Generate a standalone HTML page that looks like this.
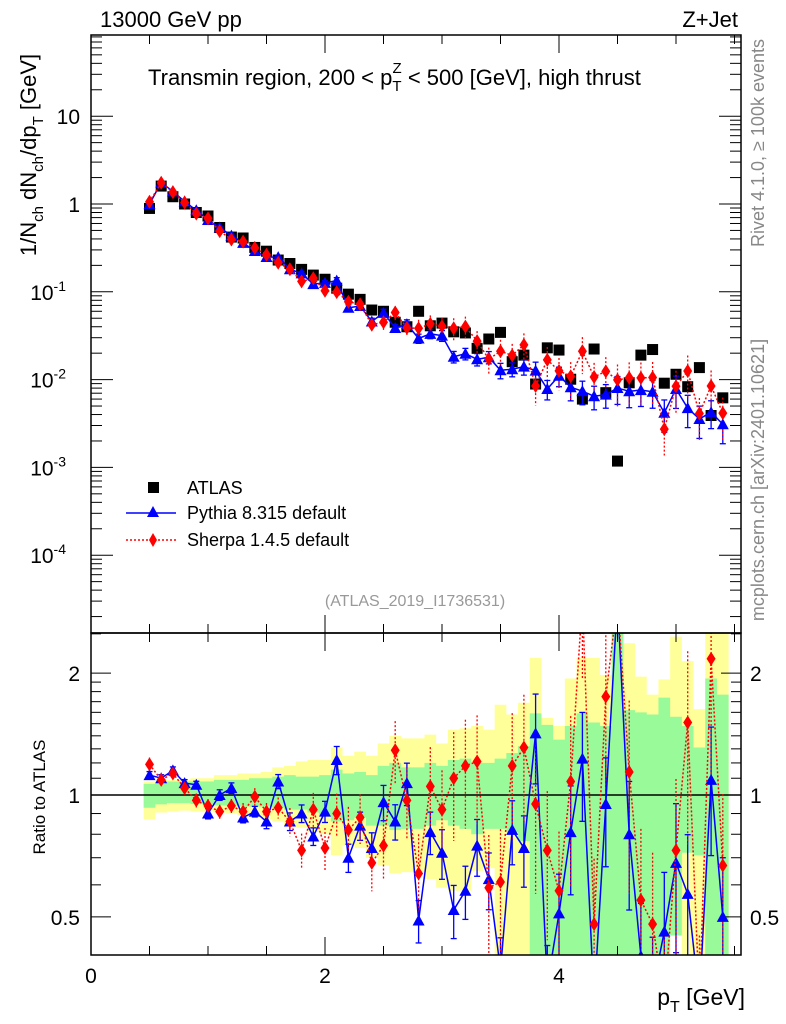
<!DOCTYPE html>
<html><head><meta charset="utf-8"><style>
html,body{margin:0;padding:0;background:#fff;width:786px;height:1024px;overflow:hidden;}
svg{display:block;}
svg text{font-family:"Liberation Sans",Arial,sans-serif;}
</style></head><body>
<svg id="chart" xmlns="http://www.w3.org/2000/svg" width="786" height="1024" viewBox="0 0 786 1024">
<defs>
<clipPath id="clipMain"><rect x="91" y="35" width="650" height="598"/></clipPath>
<clipPath id="clipRatio"><rect x="91" y="633" width="650" height="322"/></clipPath>
</defs>
<g id="bands" clip-path="url(#clipRatio)"></g>
<g id="ticks"></g>
<line x1="91" y1="795" x2="741" y2="795" stroke="#000" stroke-width="1.5"/>
<g id="mainMarks" clip-path="url(#clipMain)"></g>
<g id="ratioMarks" clip-path="url(#clipRatio)"></g>
<rect x="91" y="35" width="650" height="598" fill="none" stroke="#000" stroke-width="1.5"/>
<rect x="91" y="633" width="650" height="322" fill="none" stroke="#000" stroke-width="1.5"/>
<text x="100" y="27" font-size="22">13000 GeV pp</text>
<text x="738" y="27" font-size="22" text-anchor="end">Z+Jet</text>
<text x="148" y="85" font-size="22">Transmin region, 200 &lt; p<tspan font-size="15" dy="6">T</tspan><tspan font-size="15" dx="-9" dy="-18">Z</tspan><tspan dy="12"> &lt; 500 [GeV], high thrust</tspan></text>
<text transform="translate(36,155) rotate(-90)" font-size="22" text-anchor="middle">1/N<tspan font-size="15" dy="7">ch</tspan><tspan dy="-7"> dN</tspan><tspan font-size="15" dy="7">ch</tspan><tspan dy="-7">/dp</tspan><tspan font-size="15" dy="7">T</tspan><tspan dy="-7"> [GeV]</tspan></text>
<text transform="translate(764,143) rotate(-90)" font-size="18" fill="#888" text-anchor="middle">Rivet 4.1.0, ≥ 100k events</text>
<text transform="translate(764,480) rotate(-90)" font-size="18" fill="#888" text-anchor="middle">mcplots.cern.ch [arXiv:2401.10621]</text>
<text x="415" y="606" font-size="16" fill="#999" text-anchor="middle">(ATLAS_2019_I1736531)</text>
<text transform="translate(45,797) rotate(-90)" font-size="17" text-anchor="middle">Ratio to ATLAS</text>
<text x="745" y="1005" font-size="23" text-anchor="end">p<tspan font-size="16" dy="7">T</tspan><tspan dy="-7"> [GeV]</tspan></text>
<g>
<rect x="148" y="482" width="11" height="11" fill="#000"/>
<text x="187" y="494" font-size="18">ATLAS</text>
<line x1="126" y1="513" x2="176" y2="513" stroke="#0000ff" stroke-width="1.5"/>
<polygon points="153,506 159,517 147,517" fill="#0000ff"/>
<text x="187" y="519" font-size="18">Pythia 8.315 default</text>
<line x1="126" y1="540" x2="176" y2="540" stroke="#ff0000" stroke-width="1.5" stroke-dasharray="2,2"/>
<polygon points="153,533 157,540 153,547 149,540" fill="#ff0000"/>
<text x="187" y="546" font-size="18">Sherpa 1.4.5 default</text>
</g>
</svg>
<script>
const binCenters=[0.5,0.6,0.7,0.8,0.9,1.0,1.1,1.2,1.3,1.4,1.5,1.6,1.7,1.8,1.9,2.0,2.1,2.2,2.3,2.4,2.5,2.6,2.7,2.8,2.9,3.0,3.1,3.2,3.3,3.4,3.5,3.6,3.7,3.8,3.9,4.0,4.1,4.2,4.3,4.4,4.5,4.6,4.7,4.8,4.9,5.0,5.1,5.2,5.3,5.4];
const atlasValues=[0.89,1.60,1.21,1.0,0.80,0.73,0.54,0.42,0.41,0.32,0.29,0.23,0.21,0.18,0.155,0.139,0.11,0.094,0.082,0.062,0.060,0.045,0.040,0.060,0.041,0.044,0.035,0.034,0.0227,0.029,0.0345,0.016,0.019,0.0089,0.023,0.0217,0.0101,0.0060,0.0223,0.0071,0.00118,0.0092,0.019,0.022,0.0091,0.0115,0.0083,0.0137,0.0039,0.0062];
const pythiaRatio=[1.12,1.10,1.15,1.07,1.06,0.90,1.0,1.04,0.88,0.91,0.86,1.08,0.86,0.90,0.79,0.91,1.22,0.70,0.84,0.74,0.96,0.86,1.07,0.49,0.81,0.72,0.52,0.58,0.75,0.62,0.37,0.82,0.74,1.42,0.34,0.51,0.81,1.23,0.29,0.95,6.8,0.80,0.40,0.33,0.46,0.68,0.57,0.26,1.09,0.50];
const sherpaRatio=[1.19,1.09,1.13,1.04,0.97,0.94,0.91,0.94,0.91,0.99,0.91,0.93,0.86,0.73,0.92,0.74,0.90,0.82,0.88,0.68,0.75,1.29,0.97,0.64,1.05,0.92,1.10,1.18,1.21,0.59,0.61,1.18,1.31,0.95,0.73,0.58,1.08,3.5,0.48,1.75,8.4,1.14,0.55,0.48,0.30,0.73,1.51,0.30,2.17,0.67];
const pythiaRelErr=[0.02,0.02,0.02,0.02,0.02,0.03,0.03,0.03,0.03,0.03,0.04,0.04,0.05,0.05,0.05,0.06,0.08,0.08,0.08,0.09,0.1,0.1,0.12,0.12,0.12,0.14,0.15,0.15,0.16,0.16,0.2,0.18,0.2,0.25,0.25,0.25,0.3,0.3,0.3,0.3,0.35,0.35,0.35,0.35,0.4,0.4,0.4,0.4,0.35,0.4];
const sherpaRelErr=[0.04,0.03,0.03,0.03,0.04,0.04,0.04,0.04,0.05,0.05,0.05,0.06,0.08,0.1,0.1,0.12,0.12,0.14,0.14,0.15,0.18,0.18,0.2,0.25,0.25,0.25,0.3,0.3,0.3,0.35,0.35,0.35,0.35,0.4,0.4,0.4,0.45,0.45,0.45,0.45,0.5,0.5,0.5,0.5,0.5,0.5,0.5,0.5,0.5,0.5];
const yellowHi=[1.08,1.09,1.09,1.09,1.10,1.10,1.12,1.12,1.13,1.13,1.14,1.17,1.18,1.21,1.22,1.22,1.31,1.25,1.28,1.25,1.34,1.40,1.38,1.38,1.41,1.34,1.45,1.46,1.48,1.45,1.67,1.58,1.69,2.18,1.55,1.48,1.94,2.18,2.18,1.98,2.6,2.37,1.96,1.77,1.93,2.46,2.14,1.63,2.6,2.6];
const yellowLo=[0.87,0.905,0.91,0.915,0.91,0.91,0.905,0.90,0.89,0.88,0.87,0.86,0.84,0.83,0.81,0.80,0.71,0.75,0.74,0.70,0.67,0.64,0.645,0.645,0.62,0.59,0.58,0.58,0.65,0.66,0.4,0.4,0.4,0.4,0.4,0.48,0.57,0.4,0.54,0.4,0.4,0.4,0.56,0.4,0.4,0.58,0.4,0.4,0.4,0.4];
const greenHi=[1.065,1.07,1.08,1.08,1.08,1.08,1.09,1.09,1.09,1.10,1.10,1.11,1.12,1.11,1.11,1.12,1.155,1.13,1.14,1.12,1.18,1.20,1.17,1.17,1.20,1.18,1.22,1.23,1.20,1.20,1.23,1.27,1.32,1.59,1.49,1.37,1.48,1.59,1.51,1.48,2.6,1.62,1.60,1.58,1.74,1.56,1.48,1.31,1.94,1.77];
const greenLo=[0.93,0.948,0.955,0.955,0.95,0.948,0.942,0.942,0.936,0.936,0.936,0.93,0.92,0.92,0.905,0.89,0.86,0.866,0.88,0.84,0.84,0.82,0.825,0.825,0.84,0.866,0.84,0.825,0.80,0.825,0.825,0.81,0.77,0.4,0.4,0.4,0.4,0.4,0.4,0.4,0.4,0.4,0.4,0.4,0.4,0.45,0.72,0.71,0.4,0.4];
const binWidth=0.1;
const xTickLabels=["0","2","4"];
const mainTickLabels=["10","1","10","10","10","10"];

const NS="http://www.w3.org/2000/svg";
function clampY(y,lo,hi){return Math.max(lo,Math.min(hi,y));}
function xs(v){return 91+v*117;}
function ym(v){return clampY(204-87.8*Math.log10(v),20,650);}
function yr(v){return clampY(795-405*Math.log10(v),600,1000);}
function mk(tag,attrs,parent){const e=document.createElementNS(NS,tag);for(const k in attrs)e.setAttribute(k,attrs[k]);parent.appendChild(e);return e;}

const bands=document.getElementById('bands');
function stepBand(hi,lo,color,name){
  let pts=[];
  for(let i=0;i<binCenters.length;i++){const a=xs(binCenters[i]-binWidth/2),b=xs(binCenters[i]+binWidth/2);pts.push(a+','+yr(hi[i]),b+','+yr(hi[i]));}
  for(let i=binCenters.length-1;i>=0;i--){const a=xs(binCenters[i]-binWidth/2),b=xs(binCenters[i]+binWidth/2);pts.push(b+','+yr(lo[i]),a+','+yr(lo[i]));}
  const p=mk('polygon',{points:pts.join(' '),fill:color},bands);
  
  
}
stepBand(yellowHi,yellowLo,'#ffff99','total-uncertainty-band');
stepBand(greenHi,greenLo,'#99fa99','stat-uncertainty-band');

const ticks=document.getElementById('ticks');
function tick(x1,y1,x2,y2){const l=mk('line',{x1:x1,y1:y1,x2:x2,y2:y2,stroke:'#000','stroke-width':1},ticks);}
function label(x,y,t,anchor,size,name){const e=mk('text',{x:x,y:y,'font-size':size,'text-anchor':anchor},ticks);e.textContent=t;return e;}
for(let v=0;v<=5.5;v+=0.5){const X=xs(v);const maj=Math.abs(v%2)<1e-9;const L=maj?18:9;
  tick(X,955,X,955-L);tick(X,633,X,633+L);tick(X,633,X,633-L);tick(X,35,X,35+L);}
xTickLabels.forEach((t,i)=>label(xs(i*2),983,t,'middle',21,'x-tick-label'));
for(let d=-5;d<=1;d++){for(let m=1;m<=9;m++){const v=m*Math.pow(10,d);const Y=204-87.8*Math.log10(v);if(Y<35||Y>633)continue;const L=m===1?22:11;tick(91,Y,91+L,Y);tick(741,Y,741-L,Y);}}
const decs=[1,0,-1,-2,-3,-4];
decs.forEach((d,i)=>{const Y=ym(Math.pow(10,d));const e=label(80,Y+8,mainTickLabels[i],'end',21,'y-tick-label');if(d<0){const s=document.createElementNS(NS,'tspan');s.setAttribute('font-size','14');s.setAttribute('dy','-9');s.textContent=String(d);e.appendChild(s);e.setAttribute('x',66);}});
[0.4,0.5,0.6,0.7,0.8,0.9,1,1.1,1.2,1.3,1.4,1.5,1.6,1.7,1.8,1.9,2,2.5].forEach(v=>{const Y=795-405*Math.log10(v);if(Y<633||Y>955)return;const maj=(v===0.5||v===1||v===2);const L=maj?20:10;tick(91,Y,91+L,Y);tick(741,Y,741-L,Y);});
[[2,'2'],[1,'1'],[0.5,'0.5']].forEach(([v,t])=>{label(80,yr(v)+8,t,'end',21,'ratio-tick-label');label(750,yr(v)+8,t,'start',21,'ratio-tick-label-right');});

function errBars(g,xf,yf,vals,rel,color,dash,name){
  vals.forEach((v,i)=>{const X=xf(binCenters[i]);const y1=yf(v*(1+rel[i])),y2=yf(v*(1-rel[i]));
    const l=mk('line',{x1:X,y1:y1,x2:X,y2:y2,stroke:color,'stroke-width':1.3},g);
    if(dash)l.setAttribute('stroke-dasharray',dash);
    
    
    if(!dash){[y1,y2].forEach(yy=>{const c=mk('line',{x1:X-3,y1:yy,x2:X+3,y2:yy,stroke:color,'stroke-width':1.3},g);});}
  });
}
function series(g,xf,yf,vals,color,dash,shape,name){
  let pts=vals.map((v,i)=>xf(binCenters[i])+','+yf(v)).join(' ');
  const pl=mk('polyline',{points:pts,fill:'none',stroke:color,'stroke-width':1.5},g);
  if(dash)pl.setAttribute('stroke-dasharray',dash);
  
  
  vals.forEach((v,i)=>{const X=xf(binCenters[i]),Y=yf(v);let e;
    if(shape==='tri')e=mk('polygon',{points:(X)+','+(Y-6)+' '+(X+6)+','+(Y+5)+' '+(X-6)+','+(Y+5),fill:color},g);
    else e=mk('polygon',{points:X+','+(Y-7)+' '+(X+4.5)+','+Y+' '+X+','+(Y+7)+' '+(X-4.5)+','+Y,fill:color},g);
    
    });
}
const mainG=document.getElementById('mainMarks');
const pythiaMain=pythiaRatio.map((r,i)=>r*atlasValues[i]);
const sherpaMain=sherpaRatio.map((r,i)=>r*atlasValues[i]);
atlasValues.forEach((v,i)=>{const e=mk('rect',{x:xs(binCenters[i])-5.5,y:ym(v)-5.5,width:11,height:11,fill:'#000'},mainG);});
errBars(mainG,xs,ym,pythiaMain,pythiaRelErr,'#0000ff',null,'pythia-main');
errBars(mainG,xs,ym,sherpaMain,sherpaRelErr,'#ff0000','2,2','sherpa-main');
series(mainG,xs,ym,pythiaMain,'#0000ff',null,'tri','pythia-main');
series(mainG,xs,ym,sherpaMain,'#ff0000','2,2','dia','sherpa-main');
const ratioG=document.getElementById('ratioMarks');
errBars(ratioG,xs,yr,pythiaRatio,pythiaRelErr,'#0000ff',null,'pythia-ratio');
errBars(ratioG,xs,yr,sherpaRatio,sherpaRelErr,'#ff0000','2,2','sherpa-ratio');
series(ratioG,xs,yr,pythiaRatio,'#0000ff',null,'tri','pythia-ratio');
series(ratioG,xs,yr,sherpaRatio,'#ff0000','2,2','dia','sherpa-ratio');
</script>
</body></html>
